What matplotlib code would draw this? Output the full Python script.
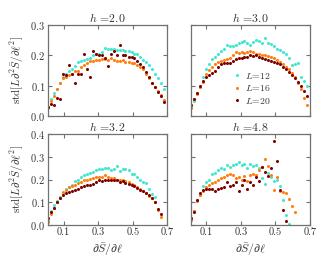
import numpy as np
import matplotlib
matplotlib.use("Agg")
import matplotlib.pyplot as plt

plt.rcParams['font.family'] = ['cmr10', 'DejaVu Serif']
plt.rcParams['mathtext.fontset'] = 'cm'
plt.rcParams['axes.unicode_minus'] = False
plt.rcParams['axes.formatter.use_mathtext'] = True

nan = np.nan
X = [0.012, 0.03, 0.047, 0.064, 0.081, 0.098, 0.115, 0.132, 0.15, 0.167,
     0.184, 0.201, 0.218, 0.235, 0.252, 0.27, 0.287, 0.304, 0.321, 0.338,
     0.355, 0.373, 0.39, 0.407, 0.424, 0.441, 0.458, 0.476, 0.493, 0.51,
     0.527, 0.544, 0.561, 0.578, 0.596, 0.613, 0.63, 0.647, 0.664, 0.682]

h_values = ["2.0", "3.0", "3.2", "4.8"]
L_labels = ["12", "16", "20"]
colors = ["#40e8d0", "#ff7f0e", "#800000"]

# h = 2.0
h20_L12 = [0.025, 0.055, 0.075, 0.088, 0.11, 0.13, 0.14, 0.148, 0.155, 0.165,
           0.178, 0.182, 0.184, 0.188, 0.192, 0.2, 0.203, 0.206, 0.212, 0.225,
           0.222, 0.222, 0.22, 0.219, 0.218, 0.216, 0.215, 0.213, 0.21, 0.206,
           0.203, 0.195, 0.185, 0.178, 0.168, 0.155, 0.138, 0.125, 0.108, 0.09]
h20_L16 = [0.03, 0.05, 0.065, 0.09, 0.11, 0.125, 0.13, 0.135, 0.14, 0.147,
           0.15, 0.16, 0.168, 0.176, 0.18, 0.182, 0.183, 0.186, 0.188, 0.188,
           0.185, 0.19, 0.185, 0.18, 0.182, 0.185, 0.178, 0.178, 0.176, 0.175,
           0.168, 0.162, 0.155, 0.14, 0.125, 0.11, 0.095, 0.082, 0.07, 0.052]
h20_L20 = [0.03, 0.04, 0.035, 0.06, 0.055, 0.14, 0.135, 0.168, 0.14, 0.108,
           0.14, 0.14, 0.205, 0.155, 0.13, 0.215, 0.205, 0.2, 0.2, 0.19,
           0.165, 0.205, 0.213, 0.2, 0.233, 0.2, 0.2, 0.195, 0.195, 0.19,
           0.18, 0.172, 0.16, 0.145, 0.13, 0.11, 0.095, 0.08, 0.065, 0.045]

# h = 3.0
h30_L12 = [0.03, 0.05, 0.075, 0.095, 0.13, 0.155, 0.172, 0.188, 0.196, 0.205,
           0.215, 0.222, 0.235, 0.232, 0.23, 0.235, 0.24, 0.244, 0.248, 0.24,
           0.235, 0.245, 0.25, 0.248, 0.242, 0.258, 0.24, 0.238, 0.232, 0.222,
           0.218, 0.21, 0.205, 0.19, 0.168, 0.17, 0.175, 0.13, 0.115, 0.1]
h30_L16 = [0.025, 0.055, 0.072, 0.095, 0.112, 0.14, 0.152, 0.162, 0.17, 0.178,
           0.18, 0.185, 0.188, 0.192, 0.2, 0.212, 0.208, 0.21, 0.208, 0.212,
           0.215, 0.21, 0.205, 0.206, 0.2, 0.2, 0.198, 0.195, 0.19, 0.185,
           0.178, 0.17, 0.162, 0.155, 0.142, 0.128, 0.108, 0.088, 0.06, 0.035]
h30_L20 = [0.035, 0.055, 0.075, 0.1, 0.115, 0.128, 0.135, 0.142, 0.15, 0.16,
           0.17, 0.175, 0.176, 0.174, 0.18, 0.188, 0.19, 0.192, 0.194, 0.196,
           0.2, 0.198, 0.2, 0.195, 0.19, 0.188, 0.185, 0.18, 0.178, 0.175,
           0.17, 0.163, 0.155, 0.145, 0.135, 0.125, 0.112, 0.098, 0.082, 0.065]

# h = 3.2
h32_L12 = [0.022, 0.06, 0.09, 0.105, 0.125, 0.14, 0.158, 0.168, 0.178, 0.192,
           0.2, 0.21, 0.218, 0.226, 0.23, 0.234, 0.24, 0.245, 0.248, 0.252,
           0.25, 0.242, 0.248, 0.26, 0.238, 0.248, 0.245, 0.24, 0.225, 0.225,
           0.212, 0.198, 0.19, 0.185, 0.158, 0.138, 0.122, nan, nan, nan]
h32_L16 = [0.015, 0.05, 0.075, 0.1, 0.12, 0.145, 0.155, 0.165, 0.172, 0.178,
           0.183, 0.19, 0.196, 0.2, 0.202, 0.205, 0.21, 0.212, 0.21, 0.218,
           0.212, 0.205, 0.208, 0.2, 0.198, 0.196, 0.195, 0.188, 0.18, 0.178,
           0.168, 0.16, 0.15, 0.14, 0.128, 0.12, 0.1, 0.065, 0.035, nan]
h32_L20 = [0.03, 0.055, 0.075, 0.1, 0.12, 0.133, 0.14, 0.145, 0.15, 0.155,
           0.16, 0.167, 0.17, 0.174, 0.178, 0.182, 0.188, 0.196, 0.195, 0.198,
           0.2, 0.196, 0.198, 0.2, 0.19, 0.192, 0.185, 0.182, 0.175, 0.17,
           0.163, 0.155, 0.148, 0.14, 0.13, 0.12, 0.1, 0.07, 0.05, nan]

# h = 4.8
h48_L12 = [0.02, 0.06, 0.11, 0.13, 0.17, 0.19, 0.2, 0.225, 0.23, 0.24,
           0.25, 0.245, 0.262, 0.255, 0.265, 0.27, 0.275, 0.262, 0.27, 0.25,
           0.268, 0.258, 0.265, 0.25, 0.205, 0.18, 0.23, 0.21, 0.195, 0.198,
           0.17, 0.11, 0.045, 0.005, nan, nan, nan, nan, nan, nan]
h48_L16 = [0.02, 0.06, 0.105, 0.13, 0.15, 0.165, 0.178, 0.185, 0.19, 0.198,
           0.205, 0.21, 0.218, 0.222, 0.218, 0.205, 0.21, 0.2, 0.215, 0.195,
           0.218, 0.225, 0.22, 0.24, 0.255, 0.29, 0.26, 0.22, 0.155, 0.21,
           0.15, 0.145, 0.142, 0.115, 0.085, 0.055, nan, nan, nan, nan]
h48_L20 = [0.03, 0.055, 0.11, 0.14, 0.155, 0.16, 0.158, 0.16, 0.15, 0.158,
           0.162, 0.168, 0.19, 0.172, 0.178, 0.188, 0.15, 0.175, 0.198, 0.16,
           0.19, 0.175, 0.21, 0.195, 0.255, 0.235, 0.215, 0.25, 0.37, 0.28,
           0.155, 0.065, 0.018, nan, nan, nan, nan, nan, nan, nan]

panels = [
    (h_values[0], [h20_L12, h20_L16, h20_L20]),
    (h_values[1], [h30_L12, h30_L16, h30_L20]),
    (h_values[2], [h32_L12, h32_L16, h32_L20]),
    (h_values[3], [h48_L12, h48_L16, h48_L20]),
]

fig = plt.figure(figsize=(3.27, 2.67), dpi=100)
W, H = 327, 267
boxes = [(48, 25), (190.7, 25), (48, 134), (190.7, 134)]
aw, ah = 119.3, 91
spine_c = "#707070"
text_c = "#333333"
axes = []
for i, ((hv, series), (bx, by)) in enumerate(zip(panels, boxes)):
    ax = fig.add_axes([bx / W, 1 - (by + ah) / H, aw / W, ah / H])
    axes.append(ax)
    for ys, c, lab in zip(series, colors, L_labels):
        ax.plot(X, ys, 'o', ms=2.2, mew=0, color=c, label=r'$L$=' + lab)
    ax.set_xlim(0.01, 0.7)
    if i < 2:
        ax.set_ylim(0, 0.3)
        ax.set_yticks([0.0, 0.1, 0.2, 0.3])
    else:
        ax.set_ylim(0, 0.4)
        ax.set_yticks([0.0, 0.1, 0.2, 0.3, 0.4])
    ax.set_xticks([0.1, 0.3, 0.5, 0.7])
    ax.tick_params(direction='in', top=True, right=True, length=3,
                   width=0.8, color=spine_c, labelsize=7.5, labelcolor=text_c, pad=2)
    for s in ax.spines.values():
        s.set_color(spine_c)
        s.set_linewidth(0.9)
    ax.set_title(r'$h$ =' + hv, fontsize=8.5, color=text_c, pad=2.5)
    if i < 2:
        ax.set_xticklabels([])
    else:
        ax.set_xticklabels(['0.1', '0.3', '0.5', '0.7'])
        ax.set_xlabel(r'$\partial\bar{S}/\partial\ell$', fontsize=8.5, color=text_c, labelpad=3)
    if i % 2 == 1:
        ax.set_yticklabels([])
    else:
        ax.set_ylabel(r'std$[L\partial^2\bar{S}/\partial\ell^2]$', fontsize=8, color=text_c, labelpad=3)
    if i == 1:
        ax.legend(loc='lower left', bbox_to_anchor=(0.28, 0.04), frameon=False,
                  fontsize=7, handletextpad=0.3, labelspacing=0.25,
                  markerscale=1.0, handlelength=1.2, borderpad=0.2,
                  labelcolor=text_c)

fig.savefig("out.png", dpi=100)
